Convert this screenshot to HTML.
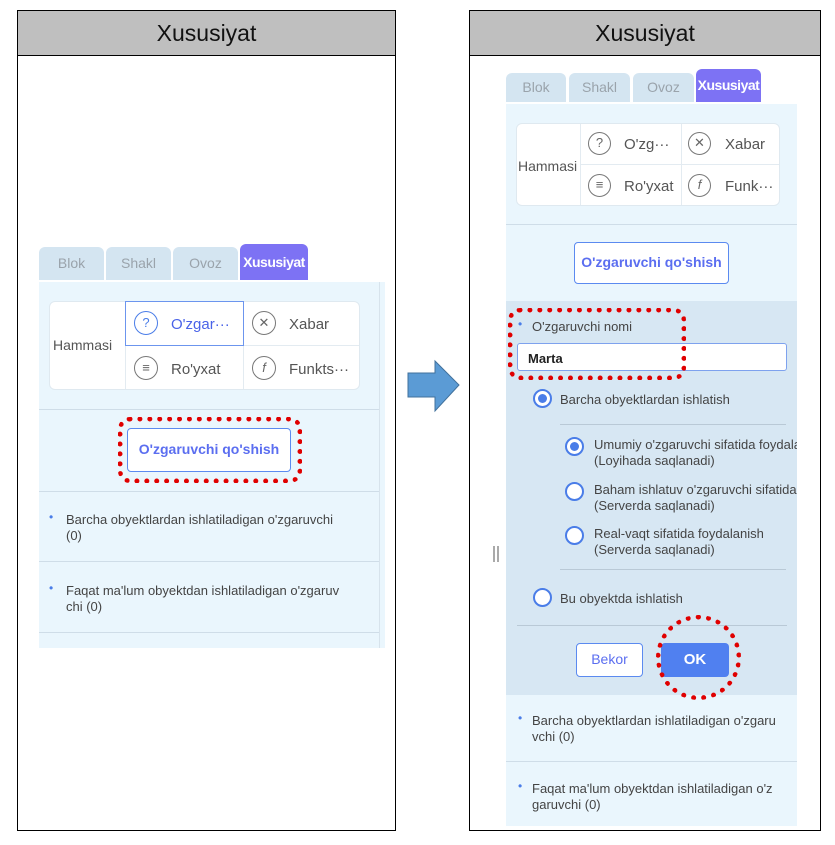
<!DOCTYPE html>
<html><head><meta charset="utf-8"><style>
*{box-sizing:border-box;margin:0;padding:0}
body{width:835px;height:845px;background:#fff;position:relative;font-family:"Liberation Sans",sans-serif;overflow:hidden}
.a{position:absolute}
.frame{border:1px solid #000}
.hdr{background:#bfbfbf;border-bottom:1px solid #000;text-align:center;font-size:23px;color:#111;line-height:45px}
.tab{background:#d4e5f1;border-radius:6px 6px 0 0;color:#9aa3ab;text-align:center;font-size:14px}
.tab.on{background:#7d72f4;color:#fff;font-weight:bold;letter-spacing:-0.5px}
.pan{background:#eaf6fd}
.cat{background:#fff;border:1px solid #dfe9f0;border-radius:6px}
.t{font-size:14px;color:#555;white-space:nowrap}
.ic{border:1.5px solid #777;border-radius:50%;text-align:center;color:#666;font-size:13px}
.btn{border:1.5px solid #5b8af0;border-radius:4px;background:#fff;color:#5b6ef0;font-weight:bold;text-align:center}
.red{border:5px dotted #e00000;border-radius:12px}
.ln{background:#cfdde8;height:1px}
.bul{color:#4a7de8;font-size:12px}
.txt{font-size:13px;color:#444;line-height:16px}
.rad{border:2px solid #4a7de8;border-radius:50%;background:#fff;width:19px;height:19px}
.rad.on::after{content:"";position:absolute;left:3px;top:3px;width:9px;height:9px;border-radius:50%;background:#4a7de8}
</style></head><body>

<div class="a frame" style="left:17px;top:10px;width:379px;height:821px"></div>
<div class="a hdr" style="left:18px;top:11px;width:377px;height:45px">Xususiyat</div>

<div class="a tab" style="left:39px;top:247px;width:65px;height:33px;line-height:33px">Blok</div>
<div class="a tab" style="left:106px;top:247px;width:65px;height:33px;line-height:33px">Shakl</div>
<div class="a tab" style="left:173px;top:247px;width:65px;height:33px;line-height:33px">Ovoz</div>
<div class="a tab on" style="left:240px;top:244px;width:68px;height:36px;line-height:36px">Xususiyat</div>
<div class="a pan" style="left:39px;top:282px;width:346px;height:366px"></div>
<div class="a" style="left:379px;top:282px;width:1px;height:366px;background:#d7e3ec"></div>
<div class="a cat" style="left:49px;top:301px;width:311px;height:89px"></div>
<div class="a" style="left:125px;top:302px;width:1px;height:87px;background:#e3ebf1"></div>
<div class="a" style="left:243px;top:302px;width:1px;height:87px;background:#e3ebf1"></div>
<div class="a" style="left:126px;top:345px;width:233px;height:1px;background:#e3ebf1"></div>
<div class="a" style="left:125px;top:301px;width:119px;height:45px;border:1.5px solid #6c95ee"></div>
<div class="a t" style="left:53px;top:337px">Hammasi</div>
<div class="a ic" style="left:134px;top:311px;width:24px;height:24px;line-height:21px;border-color:#4a7de8;color:#4a7de8">?</div>
<div class="a t" style="left:171px;top:316px;color:#4a63e8;font-size:15px">O'zgar···</div>
<div class="a ic" style="left:252px;top:311px;width:24px;height:24px;line-height:21px">✕</div>
<div class="a t" style="left:289px;top:316px;font-size:15px">Xabar</div>
<div class="a ic" style="left:134px;top:356px;width:24px;height:24px;line-height:21px">≡</div>
<div class="a t" style="left:171px;top:361px;font-size:15px">Ro'yxat</div>
<div class="a ic" style="left:252px;top:356px;width:24px;height:24px;line-height:21px;font-style:italic">f</div>
<div class="a t" style="left:289px;top:361px;font-size:15px">Funkts···</div>
<div class="a ln" style="left:39px;top:409px;width:340px"></div>
<div class="a btn" style="left:127px;top:428px;width:164px;height:44px;line-height:41px;font-size:14px">O'zgaruvchi qo'shish</div>
<div class="a red" style="left:118px;top:417px;width:184px;height:66px"></div>
<div class="a ln" style="left:39px;top:491px;width:340px"></div>
<div class="a bul" style="left:49px;top:510px">•</div>
<div class="a txt" style="left:66px;top:512px">Barcha obyektlardan ishlatiladigan o'zgaruvchi<br>(0)</div>
<div class="a ln" style="left:39px;top:561px;width:340px"></div>
<div class="a bul" style="left:49px;top:581px">•</div>
<div class="a txt" style="left:66px;top:583px">Faqat ma'lum obyektdan ishlatiladigan o'zgaruv<br>chi (0)</div>
<div class="a ln" style="left:39px;top:632px;width:340px"></div>

<svg class="a" style="left:400px;top:355px" width="70" height="62"><polygon points="8,18 35,18 35,6 59,30 35,56 35,42 8,42" fill="#5b9bd5" stroke="#41719c" stroke-width="1"/></svg>

<div class="a frame" style="left:469px;top:10px;width:352px;height:821px"></div>
<div class="a hdr" style="left:470px;top:11px;width:350px;height:45px">Xususiyat</div>

<div class="a tab" style="left:506px;top:73px;width:60px;height:29px;line-height:29px">Blok</div>
<div class="a tab" style="left:569px;top:73px;width:61px;height:29px;line-height:29px">Shakl</div>
<div class="a tab" style="left:633px;top:73px;width:61px;height:29px;line-height:29px">Ovoz</div>
<div class="a tab on" style="left:696px;top:69px;width:65px;height:33px;line-height:33px;font-size:14px">Xususiyat</div>
<div class="a pan" style="left:506px;top:104px;width:291px;height:722px"></div>
<div class="a cat" style="left:516px;top:123px;width:264px;height:83px"></div>
<div class="a" style="left:580px;top:124px;width:1px;height:81px;background:#e3ebf1"></div>
<div class="a" style="left:681px;top:124px;width:1px;height:81px;background:#e3ebf1"></div>
<div class="a" style="left:581px;top:164px;width:198px;height:1px;background:#e3ebf1"></div>
<div class="a t" style="left:518px;top:158px">Hammasi</div>
<div class="a ic" style="left:588px;top:132px;width:23px;height:23px;line-height:20px">?</div>
<div class="a t" style="left:624px;top:136px;font-size:15px">O'zg···</div>
<div class="a ic" style="left:688px;top:132px;width:23px;height:23px;line-height:20px">✕</div>
<div class="a t" style="left:725px;top:136px;font-size:15px">Xabar</div>
<div class="a ic" style="left:588px;top:174px;width:23px;height:23px;line-height:20px">≡</div>
<div class="a t" style="left:624px;top:178px;font-size:15px">Ro'yxat</div>
<div class="a ic" style="left:688px;top:174px;width:23px;height:23px;line-height:20px;font-style:italic">f</div>
<div class="a t" style="left:725px;top:178px;font-size:15px">Funk···</div>
<div class="a ln" style="left:506px;top:224px;width:291px"></div>
<div class="a btn" style="left:574px;top:242px;width:155px;height:42px;line-height:39px;font-size:14px">O'zgaruvchi qo'shish</div>

<div class="a" style="left:506px;top:301px;width:291px;height:394px;background:#d7e7f3"></div>
<div class="a bul" style="left:518px;top:317px">•</div>
<div class="a txt" style="left:532px;top:319px">O'zgaruvchi nomi</div>
<div class="a" style="left:517px;top:343px;width:270px;height:28px;background:#fff;border:1px solid #7ea2ee;border-radius:3px;font-size:13px;font-weight:bold;color:#222;padding:7px 0 0 10px">Marta</div>
<div class="a red" style="left:508px;top:308px;width:178px;height:72px"></div>
<div class="a rad on" style="left:533px;top:389px"></div>
<div class="a txt" style="left:560px;top:392px">Barcha obyektlardan ishlatish</div>
<div class="a" style="left:560px;top:424px;width:226px;height:1px;background:#b9c9d6"></div>
<div class="a rad on" style="left:565px;top:437px"></div>
<div class="a txt" style="left:594px;top:437px;white-space:nowrap">Umumiy o'zgaruvchi sifatida foydalani<br>(Loyihada saqlanadi)</div>
<div class="a rad" style="left:565px;top:482px"></div>
<div class="a txt" style="left:594px;top:482px;white-space:nowrap">Baham ishlatuv o'zgaruvchi sifatida fo<br>(Serverda saqlanadi)</div>
<div class="a rad" style="left:565px;top:526px"></div>
<div class="a txt" style="left:594px;top:526px;white-space:nowrap">Real-vaqt sifatida foydalanish<br>(Serverda saqlanadi)</div>
<div class="a" style="left:560px;top:569px;width:226px;height:1px;background:#b9c9d6"></div>
<div class="a rad" style="left:533px;top:588px"></div>
<div class="a txt" style="left:560px;top:591px">Bu obyektda ishlatish</div>
<div class="a" style="left:517px;top:625px;width:270px;height:1px;background:#b9c9d6"></div>
<div class="a btn" style="left:576px;top:643px;width:67px;height:34px;line-height:31px;font-size:14px;font-weight:normal">Bekor</div>
<div class="a" style="left:661px;top:643px;width:68px;height:34px;line-height:34px;background:#5080f0;border-radius:4px;color:#fff;font-weight:bold;text-align:center;font-size:15px">OK</div>
<div class="a" style="left:656px;top:615px;width:85px;height:85px;border:5px dotted #e00000;border-radius:50%"></div>
<div class="a" style="left:797px;top:104px;width:23px;height:726px;background:#fff"></div>

<div class="a bul" style="left:518px;top:711px">•</div>
<div class="a txt" style="left:532px;top:713px">Barcha obyektlardan ishlatiladigan o'zgaru<br>vchi (0)</div>
<div class="a ln" style="left:506px;top:761px;width:291px"></div>
<div class="a bul" style="left:518px;top:779px">•</div>
<div class="a txt" style="left:532px;top:781px">Faqat ma'lum obyektdan ishlatiladigan o'z<br>garuvchi (0)</div>
<div class="a" style="left:493px;top:546px;width:2px;height:16px;background:#aaa"></div>
<div class="a" style="left:497px;top:546px;width:2px;height:16px;background:#aaa"></div>
</body></html>
